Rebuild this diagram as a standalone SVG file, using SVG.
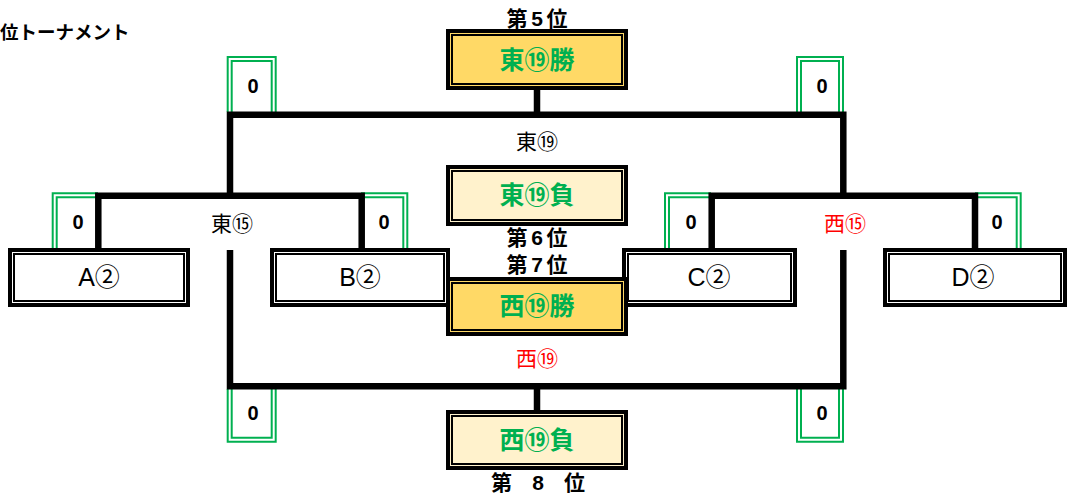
<svg xmlns="http://www.w3.org/2000/svg" width="1067" height="497" viewBox="0 0 1067 497">
<style>
text{font-family:"Liberation Sans","Noto Sans CJK JP",sans-serif;text-anchor:middle;dominant-baseline:central}
.b{font-weight:bold}
.lbl{font-size:21px;fill:#000}
.red{fill:#FF0000}
.grn{font-size:25px;font-weight:bold;fill:#00B050}
.rank{font-size:21px;font-weight:bold;fill:#000}
.score{font-size:20px;font-weight:bold;fill:#000}
.team{font-size:25px;fill:#000}
.ln{stroke:#000;stroke-width:6.5;fill:none;stroke-linecap:butt}
.g{stroke:#00B050;stroke-width:2;fill:none}
.ob{stroke:#000;stroke-width:4}
.ib{stroke:#000;stroke-width:2;fill:none}
.w{fill:#FFFFFF}
.gold{fill:#FFD966}
.pale{fill:#FFF2CC}
</style>
<text x="0" y="32" class="b" style="font-size:18.5px;text-anchor:start">位トーナメント</text>
<g id="scores-green">
<path class="g" d="M227.7,112 V57 H275.7 V112"/><path class="g" d="M231.7,112 V61 H271.7 V112"/>
<path class="g" d="M797,112 V57 H843 V112"/><path class="g" d="M801,112 V61 H839 V112"/>
<path class="g" d="M227.7,389 V441.7 H275.7 V389"/><path class="g" d="M231.7,389 V437.7 H271.7 V389"/>
<path class="g" d="M797,389 V441.7 H843 V389"/><path class="g" d="M801,389 V437.7 H839 V389"/>
<path class="g" d="M52.7,248 V193.3 H98"/><path class="g" d="M56.7,248 V197.3 H98"/>
<path class="g" d="M361,193.3 H407.3 V248"/><path class="g" d="M361,197.3 H403.3 V248"/>
<path class="g" d="M665,248 V193.3 H711"/><path class="g" d="M669,248 V197.3 H711"/>
<path class="g" d="M975,193.3 H1020.7 V248"/><path class="g" d="M975,197.3 H1016.7 V248"/>
</g>
<g id="connectors">
<path class="ln" d="M230,195.7 V114.8 H843.3 V195.7"/>
<path class="ln" d="M537,90 V114.8"/>
<path class="ln" d="M98.3,248 V195.7 H361.7 V248"/>
<path class="ln" d="M711.7,248 V195.7 H975 V248"/>
<path class="ln" d="M230,250 V386.3 H843.3 V250"/>
<path class="ln" d="M537,386.3 V410"/>
</g>
<g id="A"><rect x="10" y="250" width="178" height="55" class="w ob"/><rect x="14" y="254" width="170" height="47" class="ib"/><text x="99" y="277" class="team">A②</text></g>
<g id="B"><rect x="272" y="250" width="176" height="55" class="w ob"/><rect x="276" y="254" width="168" height="47" class="ib"/><text x="360" y="277" class="team">B②</text></g>
<g id="C"><rect x="624" y="250" width="171" height="55" class="w ob"/><rect x="628" y="254" width="163" height="47" class="ib"/><text x="709" y="277" class="team">C②</text></g>
<g id="D"><rect x="885" y="250" width="180" height="55" class="w ob"/><rect x="889" y="254" width="172" height="47" class="ib"/><text x="973" y="277" class="team">D②</text></g>
<g id="r5"><rect x="448" y="31" width="178" height="57" class="gold ob"/><rect x="452" y="35" width="170" height="49" class="ib"/><text x="537" y="60" class="grn">東⑲勝</text><text x="537" y="18" class="rank" textLength="61" lengthAdjust="spacing">第5位</text></g>
<g id="r6"><rect x="448" y="167" width="178" height="57" class="pale ob"/><rect x="452" y="171" width="170" height="49" class="ib"/><text x="537" y="195" class="grn">東⑲負</text><text x="537" y="237" class="rank" textLength="61" lengthAdjust="spacing">第6位</text></g>
<g id="r7"><rect x="448" y="279" width="178" height="55" class="gold ob"/><rect x="452" y="283" width="170" height="47" class="ib"/><text x="537" y="306" class="grn">西⑲勝</text><text x="537" y="264" class="rank" textLength="61" lengthAdjust="spacing">第7位</text></g>
<g id="r8"><rect x="448" y="412" width="178" height="56" class="pale ob"/><rect x="452" y="416" width="170" height="48" class="ib"/><text x="537" y="440" class="grn">西⑲負</text><text x="538" y="482" class="rank" xml:space="preserve" textLength="94" lengthAdjust="spacing">第 8 位</text></g>
<g id="labels">
<text x="537" y="141" class="lbl">東⑲</text>
<text x="537" y="358" class="lbl red">西⑲</text>
<text x="232" y="223" class="lbl">東⑮</text>
<text x="845" y="223" class="lbl red">西⑮</text>
</g>
<g id="score-values">
<text x="253" y="86" class="score">0</text>
<text x="822" y="86" class="score">0</text>
<text x="78" y="222" class="score">0</text>
<text x="384" y="222" class="score">0</text>
<text x="691" y="222" class="score">0</text>
<text x="997" y="222" class="score">0</text>
<text x="253" y="413" class="score">0</text>
<text x="822" y="413" class="score">0</text>
</g>
</svg>
